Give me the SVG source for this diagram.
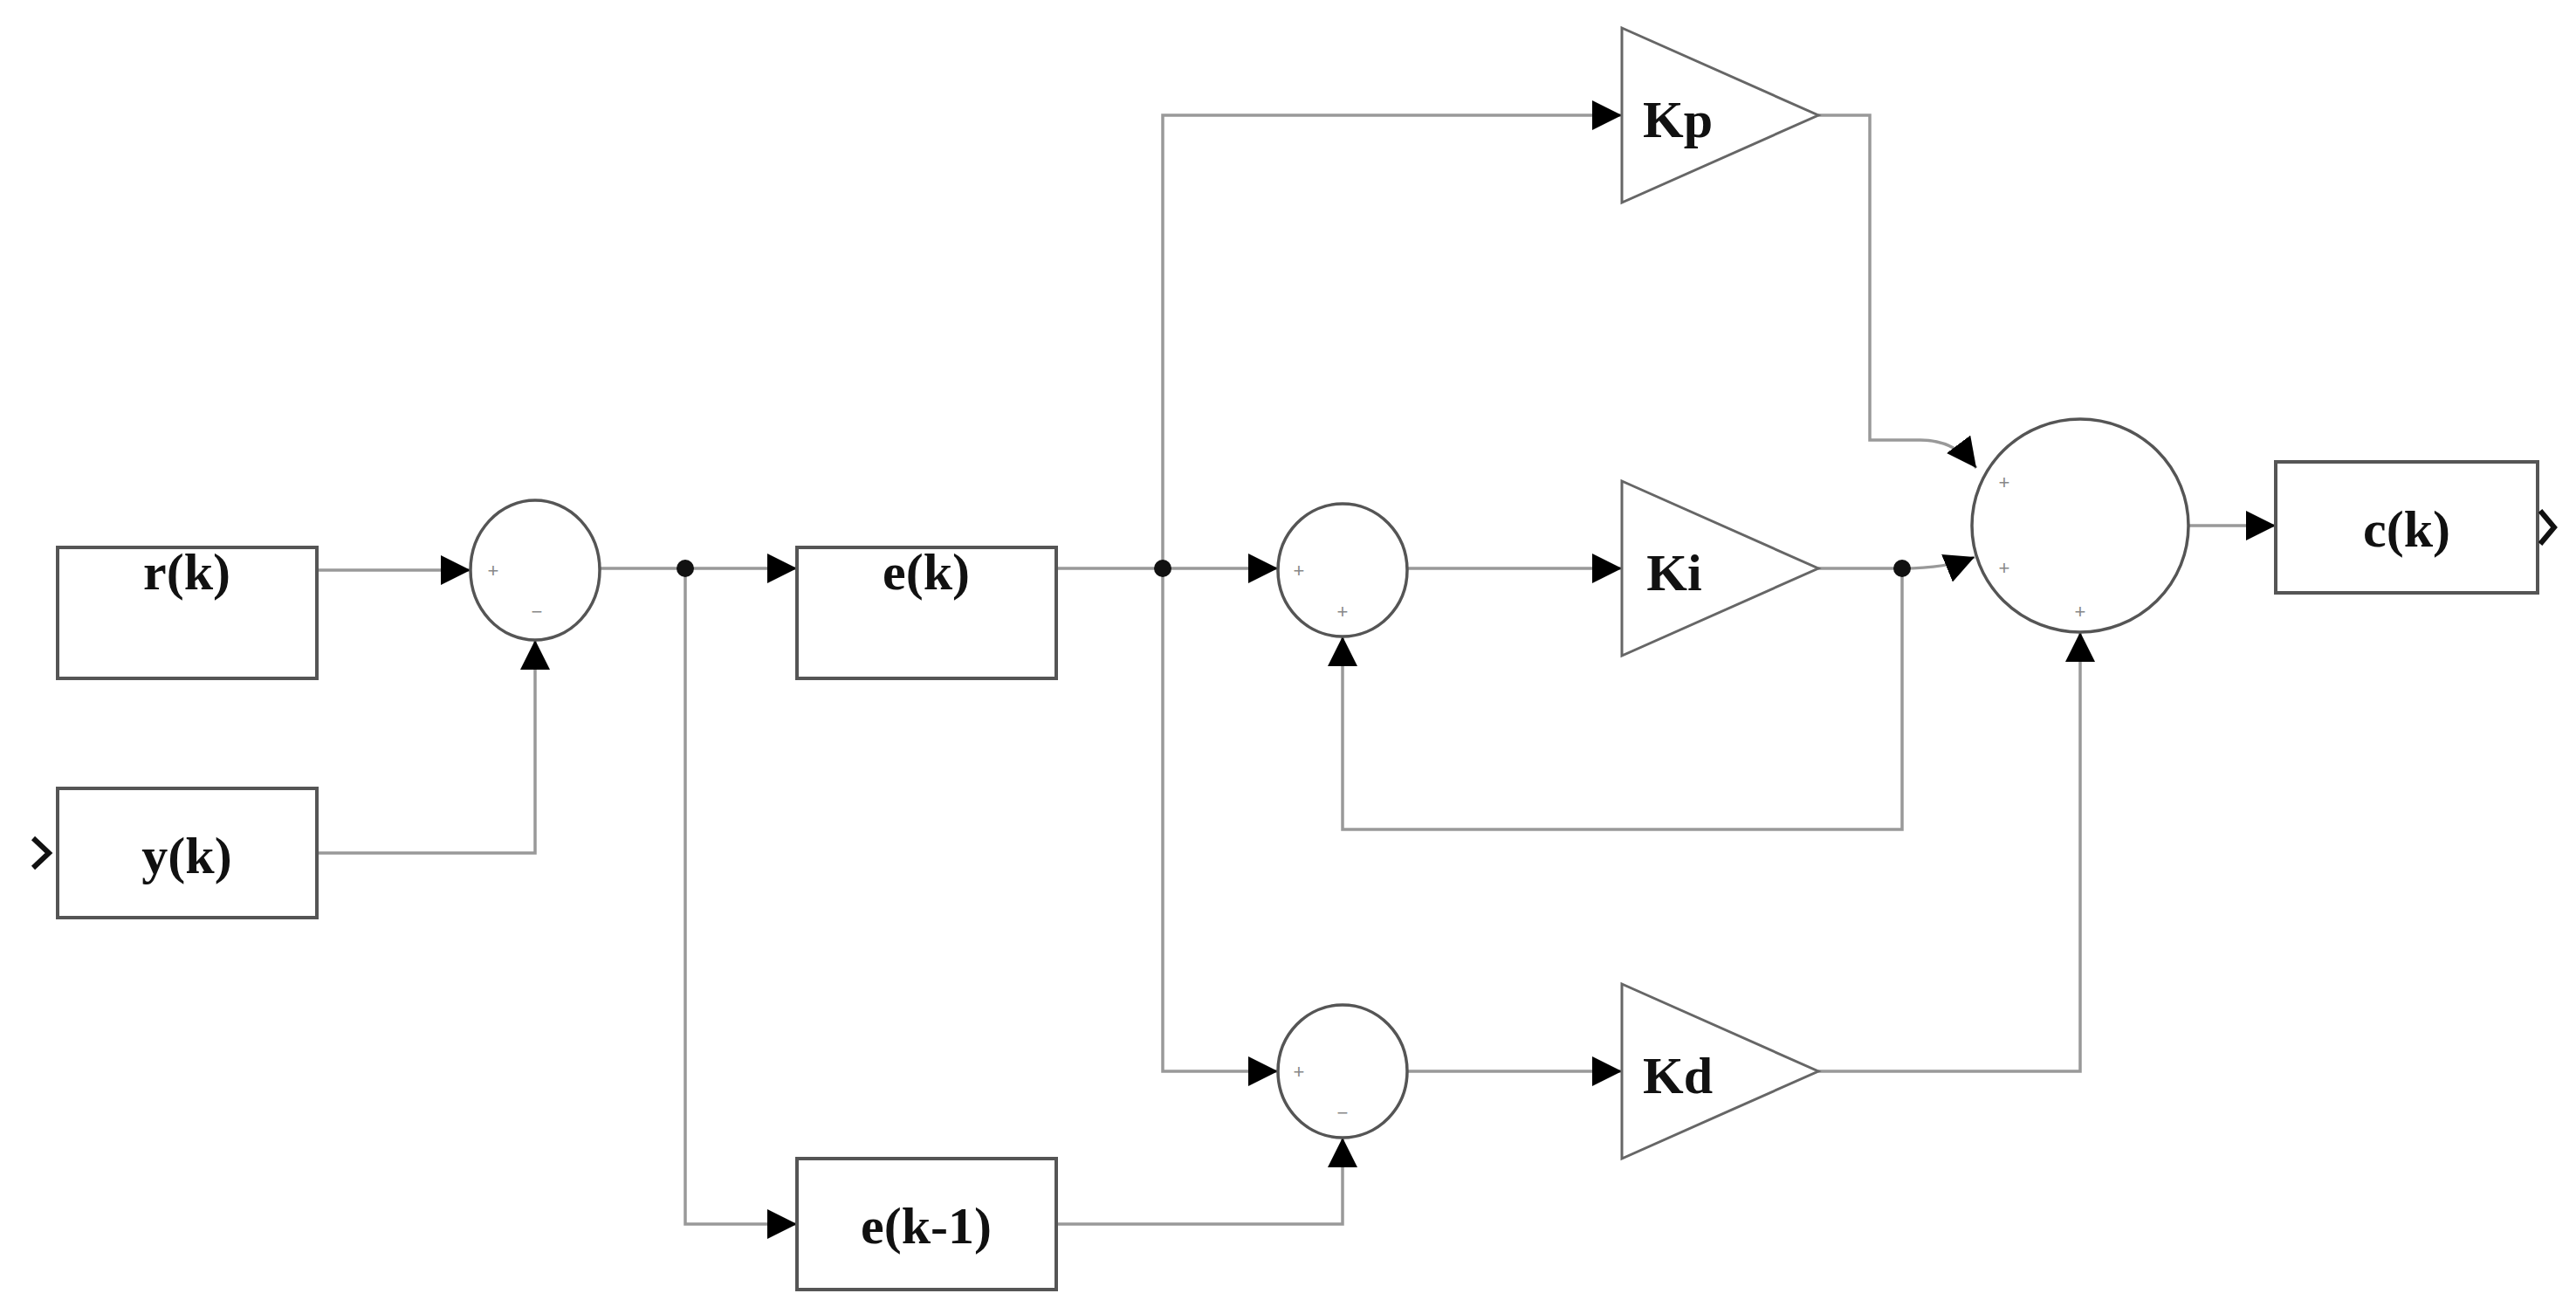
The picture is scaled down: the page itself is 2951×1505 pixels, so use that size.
<svg xmlns="http://www.w3.org/2000/svg" width="2951" height="1505" viewBox="0 0 2951 1505">
<style>
.box{fill:#fff;stroke:#555;stroke-width:4}
.sum{fill:#fff;stroke:#555;stroke-width:3.5}
.tri{fill:#fff;stroke:#666;stroke-width:3}
.w{fill:none;stroke:#999;stroke-width:3.5}
.t{font-family:"Liberation Serif",serif;font-weight:bold;font-size:60px;fill:#111;text-anchor:middle;dominant-baseline:central}
.s{font-family:"Liberation Sans",sans-serif;font-size:22px;fill:#888;text-anchor:middle;dominant-baseline:central}
.dot{fill:#111}
</style>
<defs>
<marker id="a" markerUnits="userSpaceOnUse" markerWidth="34" markerHeight="34" viewBox="0 0 34 34" refX="34" refY="17" orient="auto"><path d="M0,0 L34,17 L0,34 Z" fill="#000"/></marker>
</defs>
<rect width="2951" height="1505" fill="#fff"/>
<g id="connectors">
<path class="w" d="M363,653 H539" marker-end="url(#a)"/>
<path class="w" d="M363,977 H613 V733" marker-end="url(#a)"/>
<path class="w" d="M687,651 H913" marker-end="url(#a)"/>
<path class="w" d="M785,651 V1402 H913" marker-end="url(#a)"/>
<path class="w" d="M1210,651 H1464" marker-end="url(#a)"/>
<path class="w" d="M1332,651 V132 H1858" marker-end="url(#a)"/>
<path class="w" d="M1332,651 V1227 H1464" marker-end="url(#a)"/>
<path class="w" d="M1210,1402 H1538 V1303" marker-end="url(#a)"/>
<path class="w" d="M1612,651 H1858" marker-end="url(#a)"/>
<path class="w" d="M1612,1227 H1858" marker-end="url(#a)"/>
<path class="w" d="M2083,132 H2142 V504 H2200 Q2240,504 2264,536" marker-end="url(#a)"/>
<path class="w" d="M2083,651 H2179 Q2230,651 2262,638" marker-end="url(#a)"/>
<path class="w" d="M2179,651 V950 H1538 V729" marker-end="url(#a)"/>
<path class="w" d="M2083,1227 H2383 V724" marker-end="url(#a)"/>
<path class="w" d="M2507,602 H2607" marker-end="url(#a)"/>
<circle class="dot" cx="785" cy="651" r="10"/>
<circle class="dot" cx="1332" cy="651" r="10"/>
<circle class="dot" cx="2179" cy="651" r="10"/>
</g>
<g id="rk"><rect class="box" x="66" y="627" width="297" height="150"/><text class="t" x="214" y="655">r(k)</text></g>
<g id="yk"><rect class="box" x="66" y="903" width="297" height="148"/><text class="t" x="214" y="980">y(k)</text><path d="M38,960 L56,977 L38,994" fill="none" stroke="#111" stroke-width="6"/></g>
<g id="sum1"><ellipse class="sum" cx="613" cy="653" rx="74" ry="80"/><text class="s" x="565" y="653">+</text><text class="s" x="615" y="700">−</text></g>
<g id="ek"><rect class="box" x="913" y="627" width="297" height="150"/><text class="t" x="1061" y="655">e(k)</text></g>
<g id="ek1"><rect class="box" x="913" y="1327" width="297" height="150"/><text class="t" x="1061" y="1404">e(k-1)</text></g>
<g id="sum2"><ellipse class="sum" cx="1538" cy="653" rx="74" ry="76"/><text class="s" x="1488" y="653">+</text><text class="s" x="1538" y="700">+</text></g>
<g id="sum3"><ellipse class="sum" cx="1538" cy="1227" rx="74" ry="76"/><text class="s" x="1488" y="1227">+</text><text class="s" x="1538" y="1274">−</text></g>
<g id="kp"><path class="tri" d="M1858,32 L2083,132 L1858,232 Z"/><text class="t" x="1922" y="137">Kp</text></g>
<g id="ki"><path class="tri" d="M1858,551 L2083,651 L1858,751 Z"/><text class="t" x="1918" y="656">Ki</text></g>
<g id="kd"><path class="tri" d="M1858,1127 L2083,1227 L1858,1327 Z"/><text class="t" x="1922" y="1232">Kd</text></g>
<g id="sumout"><ellipse class="sum" cx="2383" cy="602" rx="124" ry="122"/><text class="s" x="2296" y="552">+</text><text class="s" x="2296" y="650">+</text><text class="s" x="2383" y="700">+</text></g>
<g id="ck"><rect class="box" x="2607" y="529" width="300" height="150"/><text class="t" x="2757" y="606">c(k)</text><path d="M2910,585 L2926,604 L2910,623" fill="none" stroke="#111" stroke-width="6"/></g>
</svg>
